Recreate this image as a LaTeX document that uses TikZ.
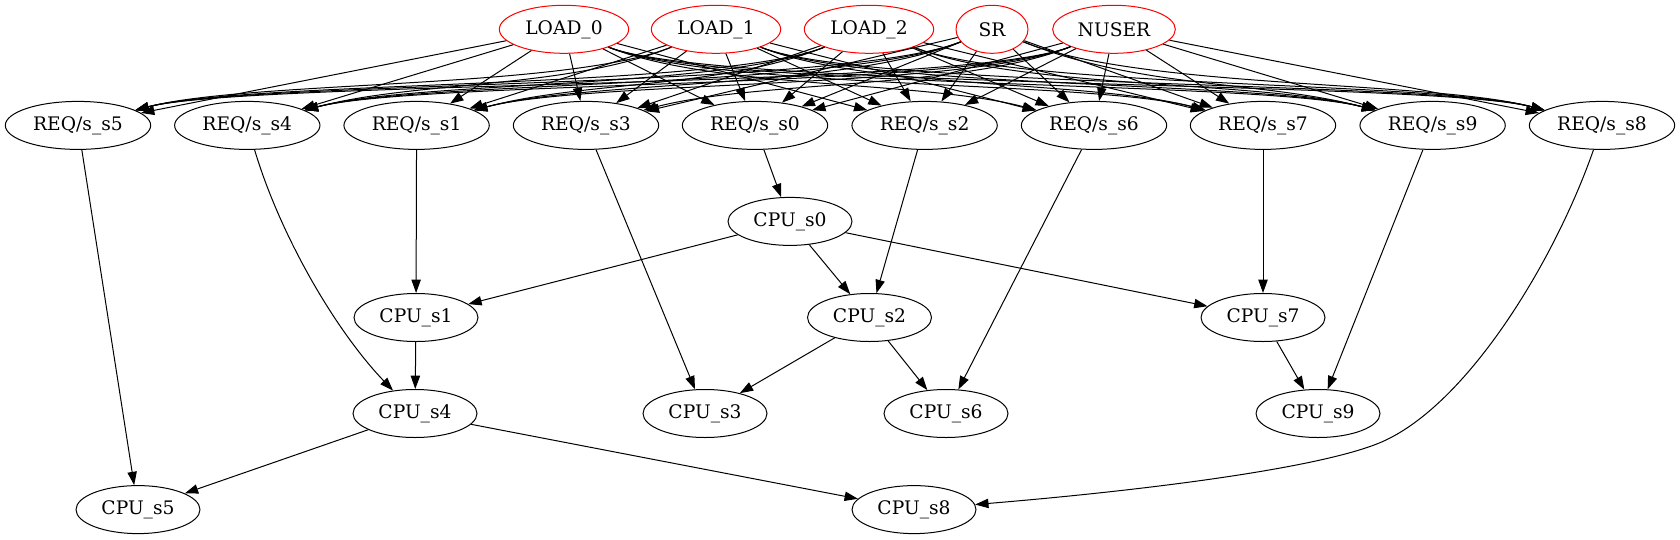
\documentclass[tikz,border=0pt]{standalone}
\usepackage{fontspec}
\setmainfont{DejaVu Serif}
\usetikzlibrary{arrows.meta,calc,shapes.geometric}

\begin{document}
\begin{tikzpicture}[
		x=0.75pt, y=-0.75pt,
		box/.style={ellipse, draw, line width=0.75pt, inner sep=0pt, minimum height=36pt, font=\fontsize{14}{16}\selectfont},
		src/.style={box, draw=red},
		req/.style={box, minimum width=109pt},
		cpu/.style={box, minimum width=93pt},
		arr/.style={-{Triangle[length=10pt,width=7pt]}, line width=0.75pt}
		]
		\useasboundingbox (0,0) rectangle (1680,539);
		% sources
		\node[src, minimum width=97pt] (load0) at (564,29.3) {LOAD\_0};
		\node[src, minimum width=97pt] (load1) at (716,29.3) {LOAD\_1};
		\node[src, minimum width=97pt] (load2) at (869,29.3) {LOAD\_2};
		\node[src, minimum width=54pt] (sr) at (992,29.3) {SR};
		\node[src, minimum width=92pt] (nuser) at (1114,29.3) {NUSER};
		
		% request rank
		\node[req] (req5) at (78,125.4) {REQ/s\_s5};
		\node[req] (req4) at (247.3,125.4) {REQ/s\_s4};
		\node[req] (req1) at (416.6,125.4) {REQ/s\_s1};
		\node[req] (req3) at (586,125.4) {REQ/s\_s3};
		\node[req] (req0) at (755,125.4) {REQ/s\_s0};
		\node[req] (req2) at (924.6,125.4) {REQ/s\_s2};
		\node[req] (req6) at (1094,125.4) {REQ/s\_s6};
		\node[req] (req7) at (1263,125.4) {REQ/s\_s7};
		\node[req] (req9) at (1432.6,125.4) {REQ/s\_s9};
		\node[req] (req8) at (1602,125.4) {REQ/s\_s8};
		
		% cpu nodes
		\node[cpu] (cpu0) at (790,221.4) {CPU\_s0};
		\node[cpu] (cpu1) at (416,317.5) {CPU\_s1};
		\node[cpu] (cpu2) at (869.5,317.5) {CPU\_s2};
		\node[cpu] (cpu7) at (1263,317.5) {CPU\_s7};
		\node[cpu] (cpu4) at (415,413.5) {CPU\_s4};
		\node[cpu] (cpu3) at (705,413.5) {CPU\_s3};
		\node[cpu] (cpu6) at (946,413.5) {CPU\_s6};
		\node[cpu] (cpu9) at (1318,413.5) {CPU\_s9};
		\node[cpu] (cpu5) at (138,509.6) {CPU\_s5};
		\node[cpu] (cpu8) at (914,509.6) {CPU\_s8};
		
		% sources -> requests
		\foreach \t in {req5,req4,req1,req3,req0,req2}
			\draw[arr] (load0) -- (\t);
		\foreach \t in {req6,req7,req9,req8}
			\draw[arr] (load0) .. controls ($(load0)+(150,60)$) and ($(\t)+(-170,-45)$) .. (\t);
		\foreach \t in {req1,req3,req0,req2,req6}
			\draw[arr] (load1) -- (\t);
		\foreach \t in {req5,req4}
			\draw[arr] (load1) .. controls ($(load1)+(-150,60)$) and ($(\t)+(170,-45)$) .. (\t);
		\foreach \t in {req7,req9,req8}
			\draw[arr] (load1) .. controls ($(load1)+(150,60)$) and ($(\t)+(-170,-45)$) .. (\t);
		\foreach \t in {req3,req0,req2,req6,req7}
			\draw[arr] (load2) -- (\t);
		\foreach \t in {req5,req4,req1}
			\draw[arr] (load2) .. controls ($(load2)+(-150,60)$) and ($(\t)+(170,-45)$) .. (\t);
		\foreach \t in {req9,req8}
			\draw[arr] (load2) .. controls ($(load2)+(150,60)$) and ($(\t)+(-170,-45)$) .. (\t);
		\foreach \t in {req3,req0,req2,req6,req7}
			\draw[arr] (sr) -- (\t);
		\foreach \t in {req5,req4,req1}
			\draw[arr] (sr) .. controls ($(sr)+(-150,60)$) and ($(\t)+(170,-45)$) .. (\t);
		\foreach \t in {req9,req8}
			\draw[arr] (sr) .. controls ($(sr)+(150,60)$) and ($(\t)+(-170,-45)$) .. (\t);
		\foreach \t in {req6,req2,req0,req7,req9,req8}
			\draw[arr] (nuser) -- (\t);
		\foreach \t in {req5,req4,req1,req3}
			\draw[arr] (nuser) .. controls ($(nuser)+(-150,60)$) and ($(\t)+(170,-45)$) .. (\t);
		
		% requests -> cpus
		\draw[arr] (req5) -- (cpu5);
		\draw[arr] (req4) .. controls (280,235) and (335,330) .. (cpu4);
		\draw[arr] (req1) -- (cpu1);
		\draw[arr] (req3) -- (cpu3);
		\draw[arr] (req0) -- (cpu0);
		\draw[arr] (req2) -- (cpu2);
		\draw[arr] (req6) -- (cpu6);
		\draw[arr] (req7) -- (cpu7);
		\draw[arr] (req9) -- (cpu9);
		\draw[arr] (req8) .. controls (1555,260) and (1470,400) .. (1386,440)
			.. controls (1330,467) and (1150,490) .. (cpu8);
		
		% cpu -> cpu
		\draw[arr] (cpu0) -- (cpu1);
		\draw[arr] (cpu0) -- (cpu2);
		\draw[arr] (cpu0) -- (cpu7);
		\draw[arr] (cpu1) -- (cpu4);
		\draw[arr] (cpu2) -- (cpu3);
		\draw[arr] (cpu2) -- (cpu6);
		\draw[arr] (cpu7) -- (cpu9);
		\draw[arr] (cpu4) -- (cpu5);
		\draw[arr] (cpu4) -- (cpu8);
	\end{tikzpicture}
\end{document}
